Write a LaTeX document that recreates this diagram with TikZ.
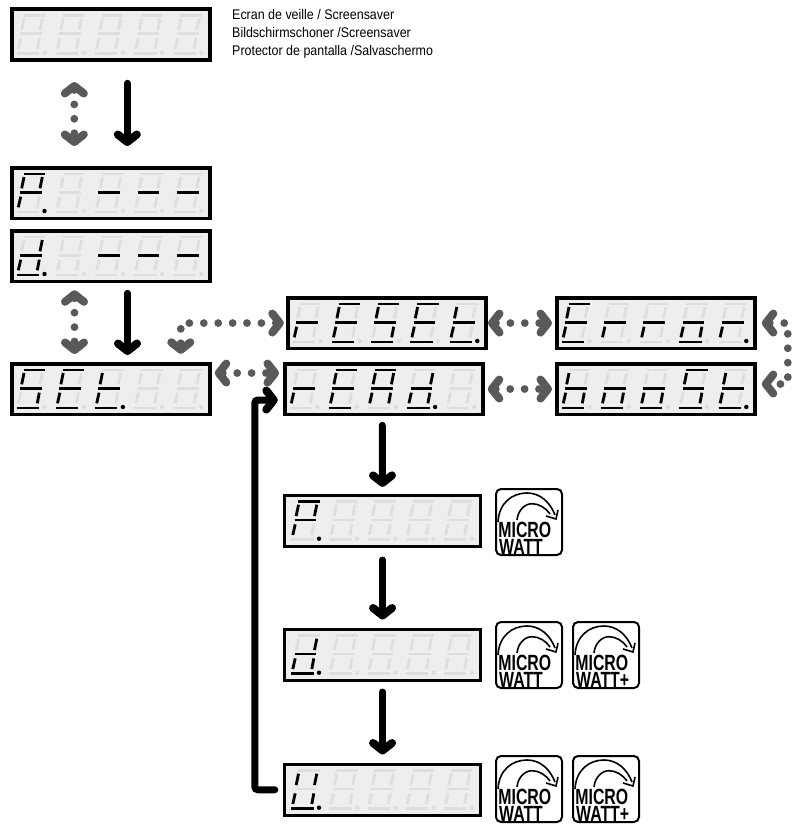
\documentclass[tikz,border=0pt]{standalone}
\usepackage{fontspec}
\setmainfont{Liberation Sans}[FakeStretch=0.89]
\newfontfamily\wattfont{Liberation Sans}[FakeStretch=0.72]
\usetikzlibrary{arrows.meta}
\definecolor{hopgray}{HTML}{58595B}
\definecolor{lcdfill}{HTML}{EDEEEE}
\definecolor{lcdoff}{HTML}{DEDEDE}
\def\lcdpitch{39.2}
\def\lcdshift{0}
\tikzset{
  lcdbox/.style={draw=black, fill=lcdfill, line width=3.6, minimum width=198, minimum height=50.5, outer sep=0, inner sep=0, anchor=north west},
  lcdthin/.code={\def\lcdpitch{38.2}\def\lcdshift{1.5}\tikzset{line width=3, minimum width=195.5}},
  segon/.style={draw=black, line width=2.8},
  segoff/.style={draw=lcdoff, line width=2.8},
  bighead/.tip={Straight Barb[length=7.5pt,width=19pt,line width=8pt,round]},
  flow/.style={draw=black, line width=7, line cap=round, -bighead},
  hop/.style={draw=hopgray, line width=7.8, line cap=round, dash pattern=on 0pt off 14.4pt, bighead-bighead},
  wattbox/.style={draw=black, line width=2, rounded corners=5, minimum size=66, outer sep=0, inner sep=0, anchor=north west},
  wattarc/.style={draw=black, line width=1.6},
  wattword/.style={anchor=base west, inner sep=0, font={\wattfont\bfseries\fontsize{22}{22}\selectfont}}
}
% segments of one digit
\def\sega#1{\draw[#1] (11.7,6.2) -- (33.2,6.2);}
\def\segb#1{\draw[#1] (30.5,9.2) -- (28.2,20.5);}
\def\segc#1{\draw[#1] (27.5,28.9) -- (25.5,39.5);}
\def\segd#1{\draw[#1] (4.9,44.2) -- (27.2,44.2);}
\def\sege#1{\draw[#1] (8.9,28.9) -- (6.5,39.5);}
\def\segf#1{\draw[#1] (12.2,9.2) -- (9.9,20.5);}
\def\segg#1{\draw[#1] (8.2,24.5) -- (29.9,24.5);}
% glyphs
\def\glP{a,b,f,g,e}
\def\gld{b,g,e,c,d}
\def\glS{a,f,g,c,d}
\def\glE{a,f,g,e,d}
\def\glt{f,g,e,d}
\def\glr{g,e}
\def\glA{a,f,b,g,e,c}
\def\glo{g,e,c,d}
\def\glb{f,g,e,c,d}
\def\glU{f,b,e,c,d}
\def\gldash{g}
% [style]{name}{position}{digit/glyph list}{digit with lit point}
\newcommand{\lcd}[5][]{
  \node[lcdbox,#1] (#2) at (#3) {};
  \begin{scope}[shift={(#2.north west)},#1]
    \foreach \dg in {0,...,4} {
      \foreach \sg in {a,b,c,d,e,f,g}
        \csname seg\sg\endcsname{segoff,xshift=\lcdshift+\dg*\lcdpitch};
      \fill[lcdoff,xshift=\lcdshift+\dg*\lcdpitch] (32.7,43.2) circle (2.2);
    }
    \foreach \dg/\gl in {#4} {
      \edef\seglist{\csname gl\gl\endcsname}
      \foreach \sg in \seglist
        \csname seg\sg\endcsname{segon,xshift=\lcdshift+\dg*\lcdpitch};
    }
    \fill[black,xshift=\lcdshift+#5*\lcdpitch] (32.7,43.2) circle (2.2);
  \end{scope}
}
% the screensaver shows nothing lit
\newcommand{\lcdblank}[2]{
  \node[lcdbox] (#1) at (#2) {};
  \begin{scope}[shift={(#1.north west)}]
    \foreach \dg in {0,...,4} {
      \foreach \sg in {a,b,c,d,e,f,g}
        \csname seg\sg\endcsname{segoff,xshift=\dg*\lcdpitch};
      \fill[lcdoff,xshift=\dg*\lcdpitch] (32.7,43.2) circle (2.2);
    }
  \end{scope}
}
% {name}{position}{lower text}
\newcommand{\mwicon}[3]{
  \node[wattbox] (#1) at (#2) {};
  \begin{scope}[shift={(#1.north west)}]
    \draw[wattarc] (2,33) .. controls (3,14) and (16,4) .. (31,4) .. controls (44,4) and (54,13) .. (59,26);
    \draw[wattarc] (21,31) .. controls (22,21) and (29,14.7) .. (36,14.7) .. controls (43,14.7) and (50,19) .. (54,25);
    \draw[wattarc] (62,21) -- (60,30) -- (50,27);
    \node[wattword] (#1m) at (2.2,48) {MICRO};
    \node[wattword] (#1w) at (3,65) {#3};
  \end{scope}
}
\begin{document}
\begin{tikzpicture}[x=1pt,y=-1pt]
\useasboundingbox (0,0) rectangle (794,824);
\lcdblank{scrn}{11.8,9.3}
\lcd{setP}{11.8,167.8}{0/P,2/dash,3/dash,4/dash}{0}
\lcd{setd}{11.8,230.8}{0/d,2/dash,3/dash,4/dash}{0}
\lcd{set}{11.8,363.8}{0/S,1/E,2/t}{2}
\lcd{reset}{287.8,297.8}{0/r,1/E,2/S,3/E,4/t}{4}
\lcd{read}{284.8,363.8}{0/r,1/E,2/A,3/d}{3}
\lcd{error}{556.8,297.8}{0/E,1/r,2/r,3/o,4/r}{4}
\lcd{boost}{556.8,363.8}{0/b,1/o,2/o,3/S,4/t}{4}
\lcd[lcdthin]{showP}{284.8,495.5}{0/P}{0}
\lcd[lcdthin]{showd}{284.8,629.5}{0/d}{0}
\lcd[lcdthin]{showU}{284.8,764.5}{0/U}{0}
\mwicon{iconP}{496,489}{WATT}
\mwicon{icond}{496,622}{WATT}
\mwicon{icondp}{573,622}{WATT+}
\mwicon{iconU}{496,756}{WATT}
\mwicon{iconUp}{573,756}{WATT+}
\node[anchor=north west, inner sep=0, align=left, font=\fontsize{14}{18.3}\selectfont] (note) at (232,9) {Ecran de veille / Screensaver\\Bildschirmschoner /Screensaver\\Protector de pantalla /Salvaschermo};
\draw[flow] ([xshift=16.5,yshift=-23.5]scrn.south) -- ([xshift=16.5,yshift=21.8]setP.north);
\draw[hop] ([xshift=-36.5,yshift=-22.2]scrn.south) -- ([xshift=-36.5,yshift=21.8]setP.north);
\draw[flow] ([xshift=16.7,yshift=-12]setd.south) -- ([xshift=16.7,yshift=8.8]set.north);
\draw[hop] ([xshift=-36.3,yshift=-9]setd.south) -- ([xshift=-36.3,yshift=9.8]set.north);
\draw[hop] ([xshift=-4]reset.west) -| ([xshift=70,yshift=10]set.north);
\draw[hop] ([xshift=5,yshift=16]set.east) -- ([xshift=-5.8,yshift=16]read.west);
\draw[hop] ([xshift=2.2]reset.east) -- ([xshift=-4.8]error.west);
\draw[hop] ([xshift=5]read.east) -- ([xshift=-4.8]boost.west);
\coordinate (loop) at ([xshift=33]error.east);
\draw[hop] ([xshift=7]error.east) -- (loop) |- ([xshift=7,yshift=5]boost.east);
\draw[flow] ([xshift=-1.5,yshift=-11]read.south) -- ([yshift=8.6]showP.north);
\draw[flow] ([yshift=-14]showP.south) -- ([yshift=10]showd.north);
\draw[flow] ([yshift=-12]showd.south) -- ([yshift=10]showU.north);
\coordinate (back) at ([xshift=-30,yshift=-11]read.west);
\draw[flow,rounded corners=3] ([xshift=-10]showU.west) -| (back) -- ([xshift=-7,yshift=-11]read.west);
\end{tikzpicture}
\end{document}
